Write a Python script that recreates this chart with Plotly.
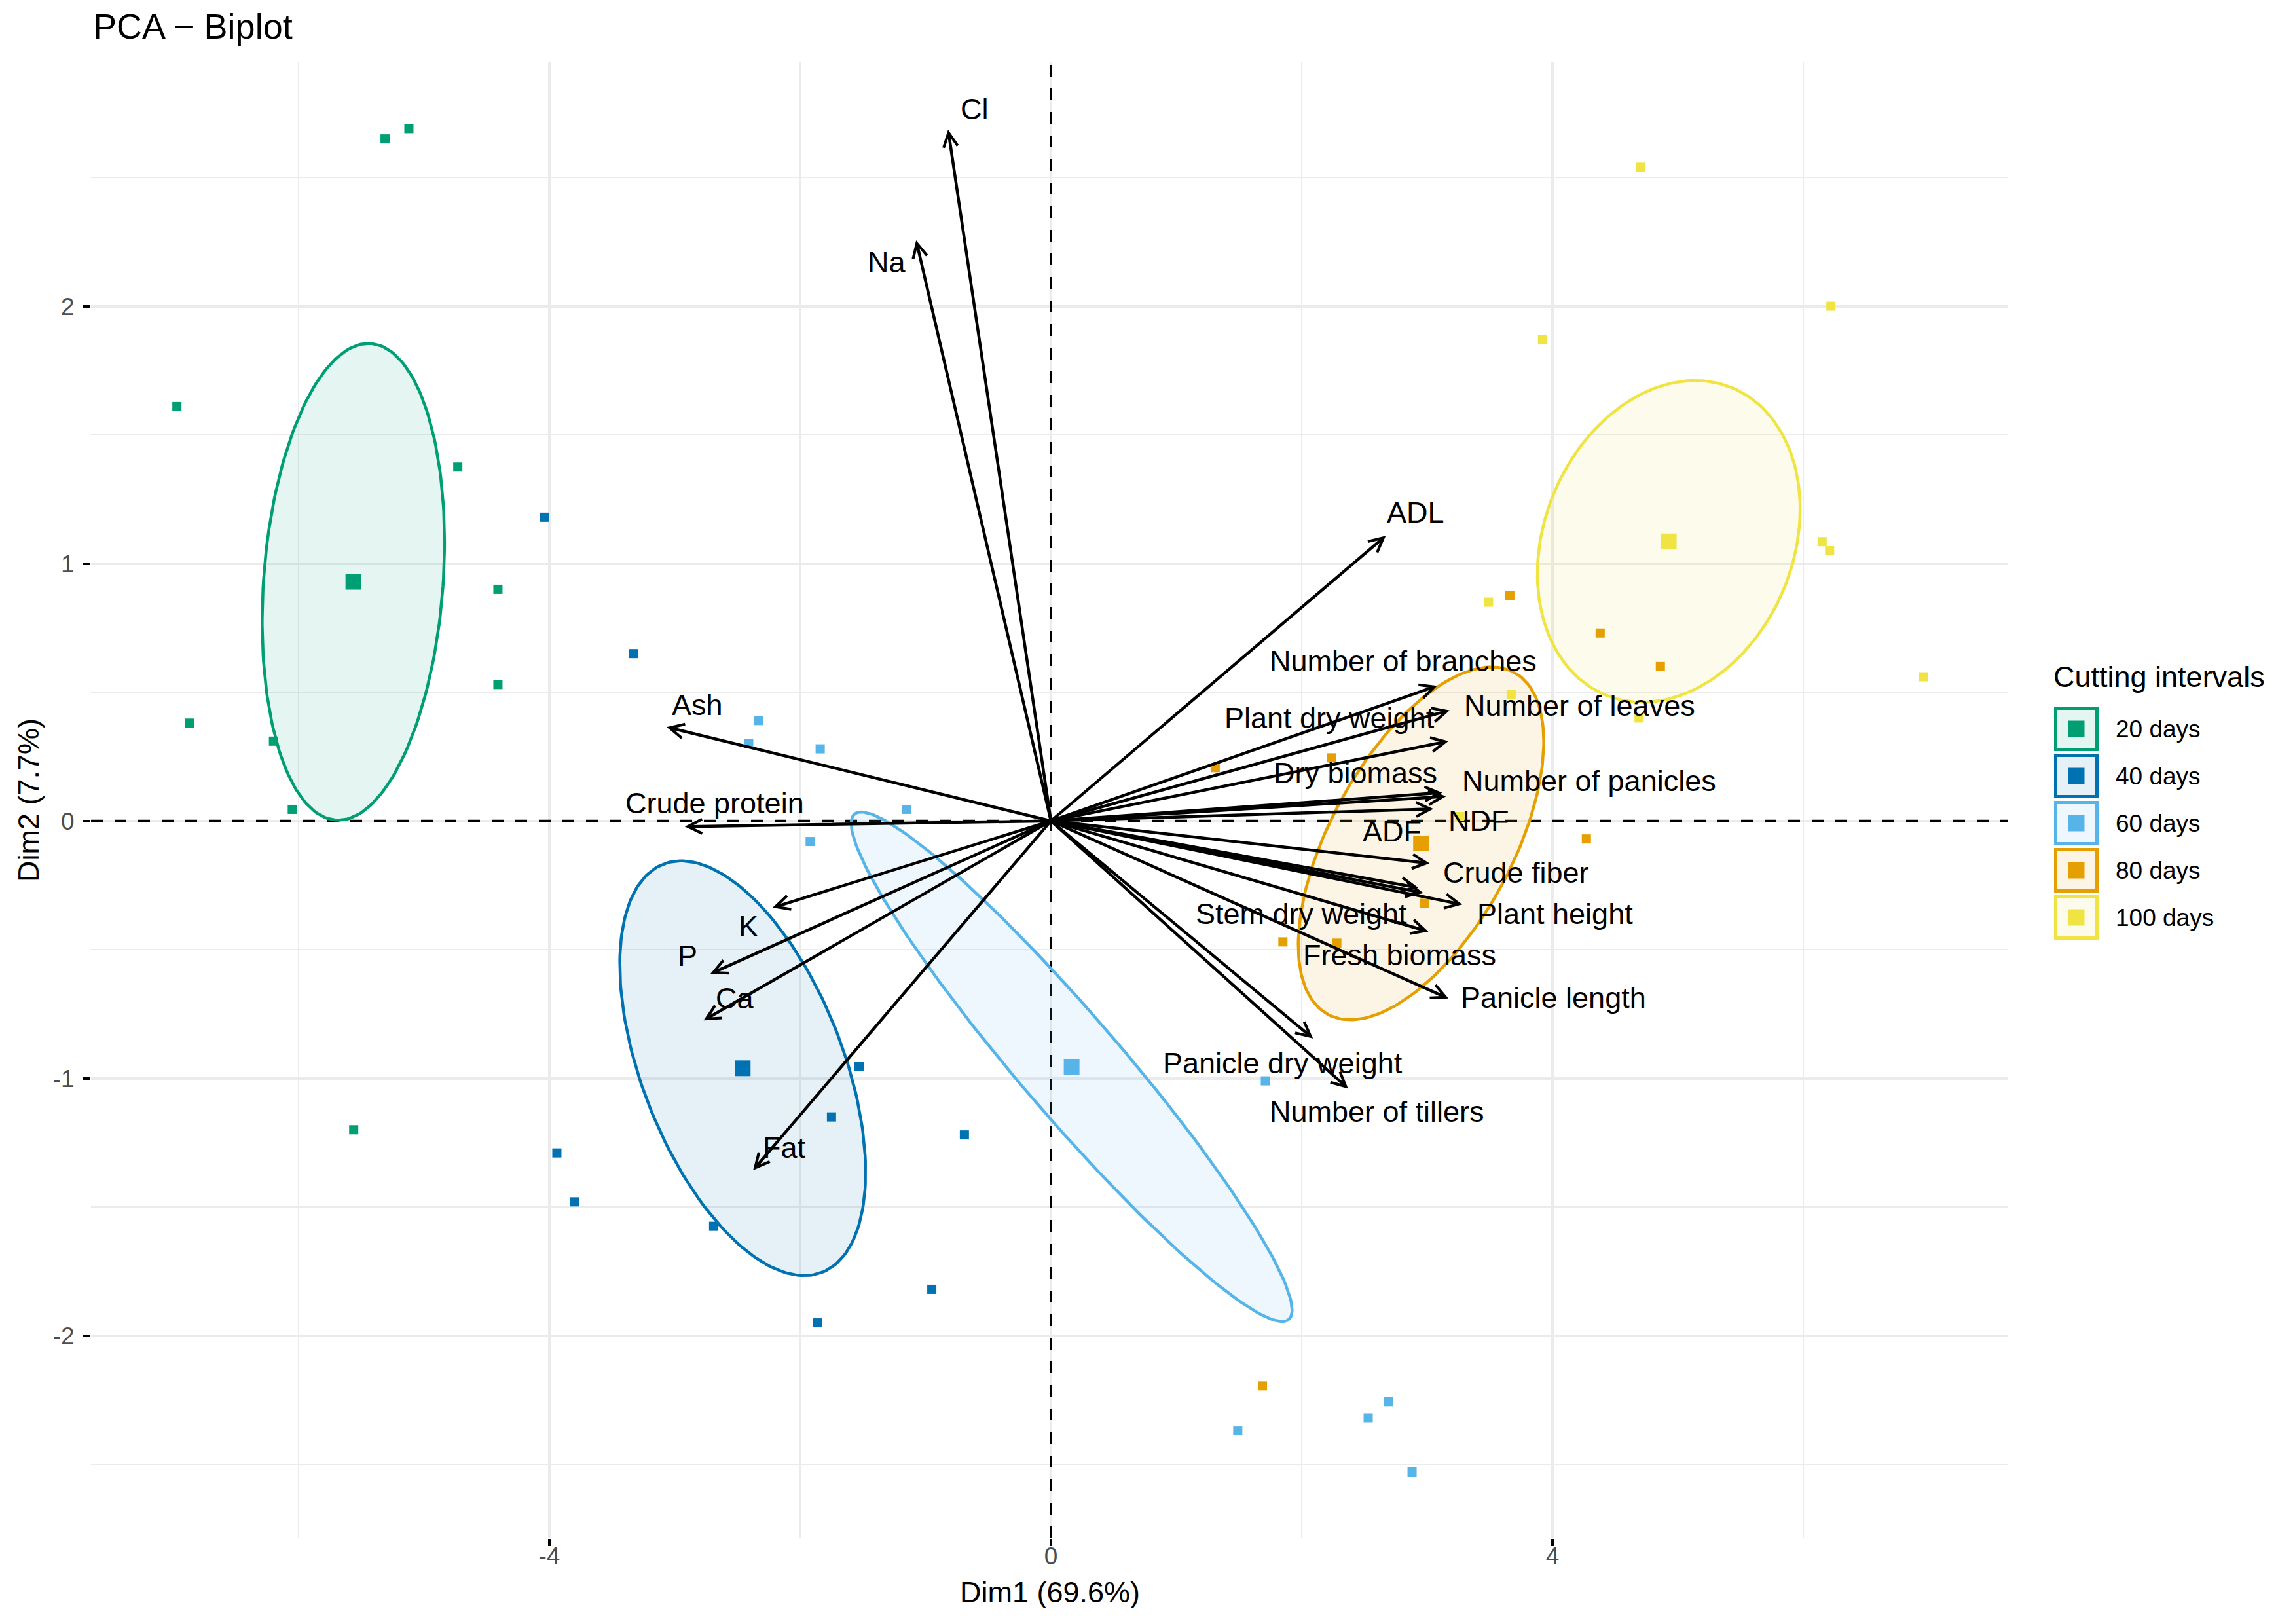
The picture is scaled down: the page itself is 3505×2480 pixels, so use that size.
import numpy as np
import plotly.graph_objects as go

# ---- individuals (Dim1, Dim2) per cutting interval ----
groups = ["20 days", "40 days", "60 days", "80 days", "100 days"]
colors = ["#009E73", "#0072B2", "#56B4E9", "#E69F00", "#F0E442"]

d20_x = [-5.31, -5.12, -6.97, -4.73, -4.41, -4.41, -6.87, -6.20, -6.05, -5.56]
d20_y = [2.65, 2.69, 1.61, 1.375, 0.90, 0.53, 0.38, 0.31, 0.045, -1.20]
d40_x = [-4.04, -3.33, -1.53, -1.75, -0.69, -3.94, -3.80, -2.69, -0.95, -1.86]
d40_y = [1.18, 0.65, -0.955, -1.15, -1.22, -1.29, -1.48, -1.575, -1.82, -1.95]
d60_x = [-2.33, -2.41, -1.84, -1.15, -1.92, 1.71, 2.69, 2.53, 1.49, 2.88]
d60_y = [0.39, 0.30, 0.28, 0.045, -0.08, -1.01, -2.256, -2.32, -2.37, -2.53]
d80_x = [3.66, 4.38, 4.86, 1.31, 2.235, 4.27, 2.98, 1.85, 2.28, 1.687]
d80_y = [0.875, 0.73, 0.60, 0.207, 0.245, -0.07, -0.32, -0.47, -0.475, -2.195]
d100_x = [4.70, 6.22, 3.92, 6.15, 6.21, 3.49, 6.96, 3.67, 4.69, 3.26]
d100_y = [2.54, 2.00, 1.87, 1.085, 1.05, 0.85, 0.56, 0.49, 0.40, 0.017]

# ---- variables (arrow tips) ----
var_names = ["Cl", "Na", "ADL", "Ash", "Crude protein", "K", "P", "Ca", "Fat",
             "Number of branches", "Number of leaves", "Plant dry weight",
             "Dry biomass", "Number of panicles", "NDF", "ADF", "Crude fiber",
             "Plant height", "Stem dry weight", "Fresh biomass", "Panicle length",
             "Panicle dry weight", "Number of tillers"]
var_x = [-0.82, -1.075, 2.67, -3.065, -2.92, -2.22, -2.715, -2.77, -2.375,
         3.08, 3.18, 3.17, 3.12, 3.15, 3.05, 2.93, 3.02,
         3.28, 3.01, 2.97, 3.17, 2.09, 2.37]
var_y = [2.686, 2.256, 1.108, 0.365, -0.022, -0.337, -0.594, -0.775, -1.357,
         0.525, 0.43, 0.31, 0.11, 0.095, 0.047, -0.26, -0.165,
         -0.325, -0.43, -0.28, -0.69, -0.845, -1.04]

# repelled label positions (layout only)
label_pos = {
    "Cl": (-0.606, 2.765), "Na": (-1.31, 2.17), "ADL": (2.91, 1.20),
    "Ash": (-2.82, 0.45), "Crude protein": (-2.68, 0.068), "K": (-2.41, -0.41),
    "P": (-2.90, -0.525), "Ca": (-2.52, -0.69), "Fat": (-2.125, -1.27),
    "Number of branches": (2.81, 0.62), "Number of leaves": (4.214, 0.447),
    "Plant dry weight": (2.22, 0.40), "Dry biomass": (2.43, 0.187),
    "Number of panicles": (4.29, 0.156), "NDF": (3.41, 0.0), "ADF": (2.72, -0.04),
    "Crude fiber": (3.71, -0.2), "Plant height": (4.02, -0.36),
    "Stem dry weight": (1.995, -0.36), "Fresh biomass": (2.78, -0.52),
    "Panicle length": (4.01, -0.687), "Panicle dry weight": (1.85, -0.94),
    "Number of tillers": (2.60, -1.13),
}

group_x = [d20_x, d40_x, d60_x, d80_x, d100_x]
group_y = [d20_y, d40_y, d60_y, d80_y, d100_y]

FONT = "Liberation Sans, Arial, sans-serif"
W, H = 3505, 2480
BODY = 8  # default page margin around the plot div
ML, MR, MT, MB = 139, 438, 95, 131  # panel edges in page pixels
PW, PH = W - ML - MR, H - MT - MB
XR = [-7.655, 7.634]
YR = [-2.787, 2.948]


def px(xp):
    return (xp - ML) / PW


def py(yp):
    return (H - MB - yp) / PH


def rgba(hexc, a):
    h = hexc.lstrip("#")
    return "rgba(%d,%d,%d,%s)" % (int(h[0:2], 16), int(h[2:4], 16), int(h[4:6], 16), a)


def conf_ellipse(x, y, chi2=5.991, n=200):
    # confidence ellipse of the group mean (cov / n)
    x = np.asarray(x)
    y = np.asarray(y)
    cov = np.cov(x, y) / len(x)
    vals, vecs = np.linalg.eigh(cov)
    t = np.linspace(0, 2 * np.pi, n)
    circ = np.vstack([np.cos(t), np.sin(t)])
    pts = vecs @ (np.sqrt(vals * chi2)[:, None] * circ)
    return x.mean() + pts[0], y.mean() + pts[1]


fig = go.Figure()

# dashed reference lines
fig.add_trace(go.Scatter(x=XR, y=[0, 0], mode="lines", hoverinfo="skip",
                         line=dict(color="black", width=4, dash="18px,18px")))
fig.add_trace(go.Scatter(x=[0, 0], y=YR, mode="lines", hoverinfo="skip",
                         line=dict(color="black", width=4, dash="18px,18px")))

# ellipses
for gx, gy, c in zip(group_x, group_y, colors):
    ex, ey = conf_ellipse(gx, gy)
    fig.add_trace(go.Scatter(x=ex, y=ey, mode="lines", fill="toself",
                             fillcolor=rgba(c, 0.1), line=dict(color=c, width=4.5),
                             hoverinfo="skip"))

# individuals + centroids
for g, gx, gy, c in zip(groups, group_x, group_y, colors):
    fig.add_trace(go.Scatter(x=gx, y=gy, mode="markers", name=g,
                             marker=dict(symbol="square", size=14, color=c,
                                         line=dict(width=0))))
    fig.add_trace(go.Scatter(x=[np.mean(gx)], y=[np.mean(gy)], mode="markers",
                             marker=dict(symbol="square", size=24, color=c,
                                         line=dict(width=0))))

annotations = []
# variable arrows
for vx, vy in zip(var_x, var_y):
    annotations.append(dict(x=vx, y=vy, ax=0, ay=0, xref="x", yref="y",
                            axref="x", ayref="y", text="", showarrow=True,
                            arrowhead=5, arrowsize=0.95, arrowwidth=4.5,
                            arrowcolor="black", standoff=0, startstandoff=0))
# variable labels
for name in var_names:
    lx, ly = label_pos[name]
    annotations.append(dict(x=lx, y=ly, xref="x", yref="y", text=name,
                            showarrow=False, xanchor="center", yanchor="middle",
                            font=dict(family=FONT, size=45, color="black")))

# axis titles
annotations.append(dict(x=px(1603), y=py(2431), xref="paper", yref="paper",
                        text="Dim1 (69.6%)", showarrow=False, yanchor="middle",
                        font=dict(family=FONT, size=45, color="black")))
annotations.append(dict(x=px(43), y=py(1222), xref="paper", yref="paper",
                        text="Dim2 (7.7%)", showarrow=False, textangle=-90,
                        xanchor="center", yanchor="middle",
                        font=dict(family=FONT, size=45, color="black")))

# legend built by hand
shapes = []
legend_top, key_step, key_size, sq = 1079, 72, 68, 25
kx0, kx1 = 3137, 3137 + key_size
annotations.append(dict(x=px(3134), y=py(1033), xref="paper", yref="paper",
                        text="Cutting intervals", showarrow=False,
                        xanchor="left", yanchor="middle",
                        font=dict(family=FONT, size=45, color="black")))
for i, (g, c) in enumerate(zip(groups, colors)):
    top = legend_top + i * key_step
    cy = top + key_size / 2
    cx = (kx0 + kx1) / 2
    shapes.append(dict(type="rect", xref="paper", yref="paper",
                       x0=px(kx0 + 2.5), x1=px(kx1 - 2.5),
                       y0=py(top + 2.5), y1=py(top + key_size - 2.5),
                       fillcolor=rgba(c, 0.1), line=dict(color=c, width=5)))
    shapes.append(dict(type="rect", xref="paper", yref="paper",
                       x0=px(cx - sq / 2), x1=px(cx + sq / 2),
                       y0=py(cy - sq / 2), y1=py(cy + sq / 2),
                       fillcolor=c, line=dict(width=0)))
    annotations.append(dict(x=px(3229), y=py(cy), xref="paper", yref="paper",
                            text=g, showarrow=False, xanchor="left",
                            yanchor="middle",
                            font=dict(family=FONT, size=37, color="black")))

axis_common = dict(showgrid=True, gridcolor="#EBEBEB", gridwidth=4,
                   zeroline=False, showline=False, ticks="outside",
                   ticklen=11, tickwidth=4, tickcolor="black",
                   tickfont=dict(family=FONT, size=37, color="#4D4D4D"))

fig.update_layout(
    width=W - 2 * BODY, height=H - 2 * BODY,
    margin=dict(l=ML - BODY, r=MR - BODY, t=MT - BODY, b=MB - BODY),
    plot_bgcolor="white", paper_bgcolor="white",
    showlegend=False,
    title=dict(text="PCA − Biplot", xref="container", yref="container",
               x=(142 - BODY) / (W - 2 * BODY), xanchor="left",
               y=1 - (40 - BODY) / (H - 2 * BODY), yanchor="middle",
               font=dict(family=FONT, size=54, color="black")),
    xaxis=dict(range=XR, tickmode="array", tickvals=[-4, 0, 4],
               ticktext=["-4", "0", "4"], ticklabelstandoff=-16,
               minor=dict(tickmode="linear", tick0=0, dtick=2, showgrid=True,
                          gridcolor="#EBEBEB", gridwidth=2, ticks=""),
               **axis_common),
    yaxis=dict(range=YR, tickmode="array", tickvals=[-2, -1, 0, 1, 2],
               ticktext=["-2", "-1", "0", "1", "2"], ticklabelstandoff=6,
               minor=dict(tickmode="linear", tick0=0, dtick=0.5, showgrid=True,
                          gridcolor="#EBEBEB", gridwidth=2, ticks=""),
               **axis_common),
    annotations=annotations,
    shapes=shapes,
)

fig.write_html("out.html")
